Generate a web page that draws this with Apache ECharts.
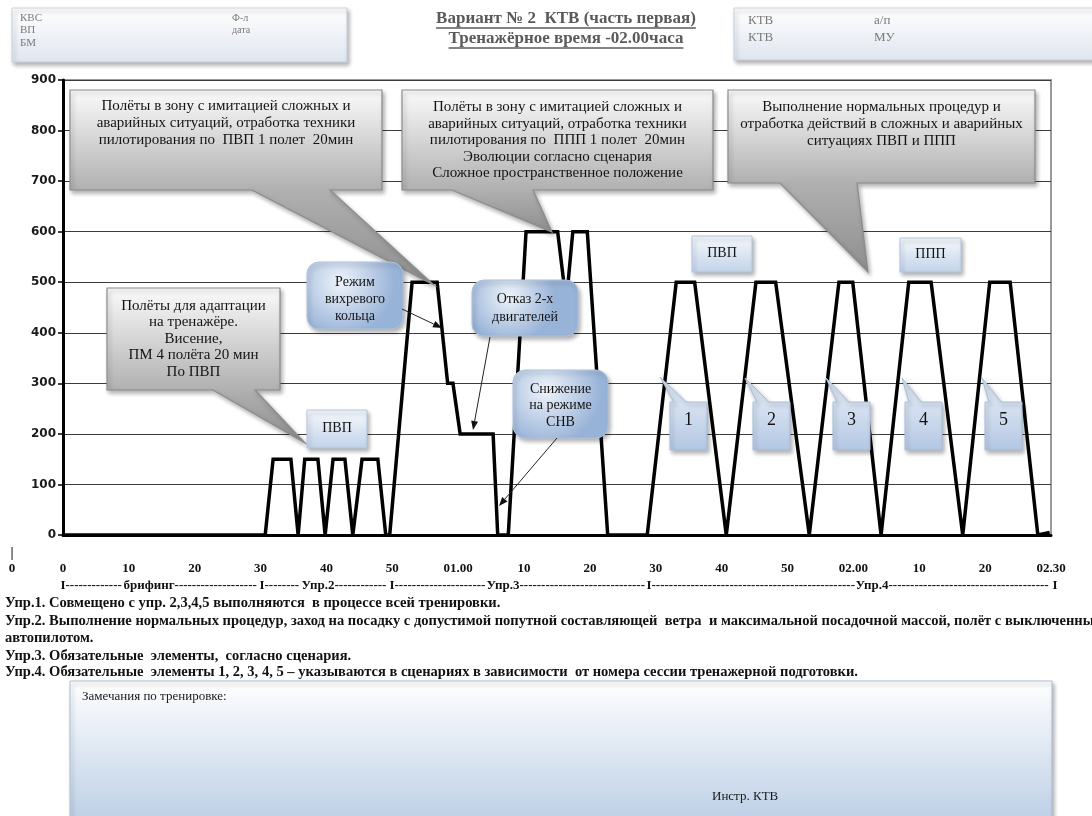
<!DOCTYPE html>
<html>
<head>
<meta charset="utf-8">
<script src="https://cdn.jsdelivr.net/npm/echarts@6/dist/echarts.min.js"></script>
<style>
html, body { margin: 0; padding: 0; background: #fff; }
#chart { width: 1092px; height: 816px; }
</style>
</head>
<body>
<div id="chart"></div>
<script>
// профиль тренировки: время от начала (мин) и высота (м)
const minutes = [0, 30.7, 31.9, 34.6, 35.7, 36.7, 38.7, 39.8, 41.0, 42.8, 44.0, 45.4, 47.8, 49.0, 49.6,
    53.0, 56.8, 58.4, 59.2, 60.3, 65.3, 66.0, 67.6, 70.3, 75.1, 76.4, 77.4, 79.6, 82.7, 88.7,
    93.1, 95.9, 100.7, 105.2, 108.2, 113.3, 117.8, 119.9, 124.2, 128.4, 131.8, 136.6, 140.7, 143.8, 148.0, 149.8];
const height = [0, 0, 150, 150, 0, 150, 150, 0, 150, 150, 0, 150, 150, 0, 0,
    500, 500, 300, 300, 200, 200, 0, 0, 600, 600, 460, 600, 600, 0, 0,
    500, 500, 0, 500, 500, 0, 500, 500, 0, 500, 500, 0, 500, 500, 0, 5];
const xTickLabels = ['0', '10', '20', '30', '40', '50', '01.00', '10', '20', '30', '40', '50', '02.00', '10', '20', '02.30'];

const stageRow = [
    {t: 'I', x: 63}, {t: 'брифинг', x: 149}, {t: 'I', x: 262}, {t: 'Упр.2', x: 318},
    {t: 'I', x: 392}, {t: 'Упр.3', x: 503}, {t: 'I', x: 649}, {t: 'Упр.4', x: 872}, {t: 'I', x: 1055}
];
const notes = [
    'Упр.1. Совмещено с упр. 2,3,4,5 выполняются  в процессе всей тренировки.',
    'Упр.2. Выполнение нормальных процедур, заход на посадку с допустимой попутной составляющей  ветра  и максимальной посадочной массой, полёт с выключенным',
    'автопилотом.',
    'Упр.3. Обязательные  элементы,  согласно сценария.',
    'Упр.4. Обязательные  элементы 1, 2, 3, 4, 5 – указываются в сценариях в зависимости  от номера сессии тренажерной подготовки.'
];

const SERIF = '"Liberation Serif", "DejaVu Serif", serif';
const ctx = document.createElement('canvas').getContext('2d');
function textWidth(s, font) { ctx.font = font; return ctx.measureText(s).width; }

const g = [];
const shadow = {shadowBlur: 4, shadowOffsetX: 2, shadowOffsetY: 3, shadowColor: 'rgba(0,0,0,0.3)'};

function txt(x, y, text, font, fill, align, extra) {
    g.push(Object.assign({
        type: 'text', z: 110, x: x, y: y,
        style: {text: text, x: 0, y: 0, font: font, fill: fill || '#111',
            align: align || 'left', textAlign: align || 'left',
            verticalAlign: 'middle', textVerticalAlign: 'middle'}
    }, extra || {}));
}

function grad(stops) {
    return new echarts.graphic.LinearGradient(0, 0, 0, 1, stops.map(c => ({offset: c[0], color: c[1]})));
}

// серая выноска с хвостом от нижней стороны
function grayCallout(r, base, tip, lines, firstY, lh) {
    const [x1, y1, x2, y2] = r;
    const f = (y2 - y1) / (tip[1] - y1);
    g.push({
        type: 'polygon', z: 100,
        shape: {points: [[x1, y1], [x2, y1], [x2, y2], [base[1], y2], tip, [base[0], y2], [x1, y2]]},
        style: Object.assign({fill: grad([[0, '#fbfbfb'], [f, '#b0b0b0'], [1, '#8e8e8e']]), stroke: '#8c8c8c', lineWidth: 1.2}, shadow)
    });
    lines.forEach((l, i) => txt((x1 + x2) / 2, firstY + i * lh, l, '15px ' + SERIF, '#141414', 'center'));
}

function blueBubble(x, y, w, h, lines, firstY, lh) {
    g.push({
        type: 'rect', z: 100, shape: {x: x, y: y, width: w, height: h, r: 12},
        style: Object.assign({
            fill: new echarts.graphic.RadialGradient(0.35, 0.3, 0.8, [{offset: 0, color: '#eef3fa'}, {offset: 1, color: '#98b3d8'}]),
            stroke: '#aec2de', lineWidth: 1
        }, shadow)
    });
    lines.forEach((l, i) => txt(x + w / 2, firstY + i * lh, l, '14px ' + SERIF, '#141414', 'center'));
}

function tag(x, y, w, h, label) {
    g.push({
        type: 'rect', z: 100, shape: {x: x, y: y, width: w, height: h},
        style: Object.assign({fill: grad([[0, '#f6f9fc'], [1, '#c2d3ea']]), stroke: '#b3c6e0', lineWidth: 1}, shadow)
    });
    txt(x + w / 2, y + h / 2 - 1, label, '14px ' + SERIF, '#141414', 'center');
}

// номерная выноска с хвостом от верхней стороны
function numCallout(x, y, w, h, tip, label) {
    g.push({
        type: 'polygon', z: 100,
        shape: {points: [[x, y], [x + 4, y], tip, [x + 16, y], [x + w, y], [x + w, y + h], [x, y + h]]},
        style: Object.assign({fill: grad([[0, '#dce6f3'], [0.45, '#d3dff0'], [1, '#b3c7e3']]), stroke: '#a9bedb', lineWidth: 1}, shadow)
    });
    txt(x + w / 2, y + 18, label, '18px ' + SERIF, '#141414', 'center');
}

function arrow(x1, y1, x2, y2) {
    const a = Math.atan2(y2 - y1, x2 - x1), L = 9, W = 3.5;
    const bx = x2 - L * Math.cos(a), by = y2 - L * Math.sin(a);
    g.push({type: 'line', z: 105, shape: {x1: x1, y1: y1, x2: bx, y2: by}, style: {stroke: '#222', lineWidth: 1}});
    g.push({type: 'polygon', z: 105, shape: {points: [[x2, y2],
        [bx + W * Math.sin(a), by - W * Math.cos(a)], [bx - W * Math.sin(a), by + W * Math.cos(a)]]},
        style: {fill: '#111'}});
}

// шапка
g.push({type: 'rect', z: 90, shape: {x: 12, y: 8, width: 335, height: 54},
    style: Object.assign({fill: grad([[0, '#ffffff'], [1, '#dfe6ef']]), stroke: '#c9d2de', lineWidth: 1}, shadow)});
g.push({type: 'rect', z: 90, shape: {x: 734, y: 8, width: 380, height: 52},
    style: Object.assign({fill: grad([[0, '#ffffff'], [1, '#dfe6ef']]), stroke: '#c9d2de', lineWidth: 1}, shadow)});
['КВС', 'ВП', 'БМ'].forEach((s, i) => txt(20, 18 + i * 12.5, s, '11px ' + SERIF, '#7a7a7a'));
['Ф-л', 'дата'].forEach((s, i) => txt(232, 18 + i * 12.5, s, '10px ' + SERIF, '#7a7a7a'));
['КТВ', 'КТВ'].forEach((s, i) => txt(748, 21 + i * 17, s, '13px ' + SERIF, '#7a7a7a'));
['а/п', 'МУ'].forEach((s, i) => txt(874, 21 + i * 17, s, '13px ' + SERIF, '#7a7a7a'));

const titleFont = 'bold 17px ' + SERIF;
['Вариант № 2  КТВ (часть первая)', 'Тренажёрное время -02.00часа'].forEach((s, i) => {
    const y = 19 + i * 20, w = textWidth(s, titleFont);
    txt(566, y, s, titleFont, '#5a5a5a', 'center');
    g.push({type: 'line', z: 110, shape: {x1: 566 - w / 2, y1: y + 9, x2: 566 + w / 2, y2: y + 9}, style: {stroke: '#5a5a5a', lineWidth: 1.3}});
});

// выноски
grayCallout([70, 90, 382, 190], [252, 330], [434, 285],
    ['Полёты в зону с имитацией сложных и', 'аварийных ситуаций, отработка техники', 'пилотирования по  ПВП 1 полет  20мин'], 106, 17);
grayCallout([402, 90, 713, 190], [452, 533], [552, 232],
    ['Полёты в зону с имитацией сложных и', 'аварийных ситуаций, отработка техники', 'пилотирования по  ППП 1 полет  20мин',
        'Эволюции согласно сценария', 'Сложное пространственное положение'], 107, 16.6);
grayCallout([728, 90, 1035, 183], [780, 857], [868, 272],
    ['Выполнение нормальных процедур и', 'отработка действий в сложных и аварийных', 'ситуациях ПВП и ППП'], 107, 17);
grayCallout([107, 288, 280, 390], [213, 255], [305, 443],
    ['Полёты для адаптации', 'на тренажёре.', 'Висение,', 'ПМ 4 полёта 20 мин', 'По ПВП'], 306, 16.5);

tag(307, 410, 60, 38, 'ПВП');
tag(692, 236, 60, 36, 'ПВП');
tag(900, 238, 61, 34, 'ППП');

blueBubble(307, 262, 96, 67, ['Режим', 'вихревого', 'кольца'], 282, 17);
blueBubble(472, 280, 106, 56, ['Отказ 2-х', 'двигателей'], 299, 18);
blueBubble(513, 370, 95, 68, ['Снижение', 'на режиме', 'СНВ'], 389, 16.5);
arrow(402, 309, 442, 328);
arrow(490, 337, 473, 430);
arrow(557, 438, 499, 506);

[[670, [660, 377]], [753, [745, 378]], [833, [826, 378]], [905, [902, 378]], [985, [982, 378]]]
    .forEach((c, i) => numCallout(c[0], 402, 37, 48, c[1], String(i + 1)));

// подписи под осью
const rowFont = 'bold 13px ' + SERIF;
txt(12, 553, '|', 'bold 14px ' + SERIF, '#111', 'center');
txt(12, 569, '0', rowFont, '#111', 'center');
const dashW = textWidth('-', rowFont);
stageRow.forEach((p, i) => {
    const w = textWidth(p.t, rowFont);
    txt(p.x, 586, p.t, rowFont, '#111', 'center');
    if (i < stageRow.length - 1) {
        const nx = stageRow[i + 1].x - textWidth(stageRow[i + 1].t, rowFont) / 2;
        const start = p.x + w / 2;
        const n = Math.max(0, Math.floor((nx - start) / dashW));
        txt(start, 586, '-'.repeat(n), rowFont, '#111', 'left');
    }
});

const noteFont = 'bold 14.5px ' + SERIF;
const noteScale = 853 / textWidth(notes[4], noteFont);
[603, 621, 638, 656, 672].forEach((y, i) => txt(5, y, notes[i], noteFont, '#111', 'left', {scaleX: noteScale}));

// поле замечаний
g.push({type: 'rect', z: 90, shape: {x: 70, y: 681, width: 982, height: 150},
    style: Object.assign({fill: grad([[0, '#ffffff'], [1, '#b8cce4']]), stroke: '#a9bdd9', lineWidth: 1}, shadow)});
txt(82, 697, 'Замечания по тренировке:', '13px ' + SERIF, '#1a1a1a');
txt(712, 797, 'Инстр. КТВ', '13px ' + SERIF, '#1a1a1a');

const chart = echarts.init(document.getElementById('chart'));
chart.setOption({
    animation: false,
    grid: {left: 63, right: 41, top: 80, bottom: 281, show: true, borderColor: '#9a9a9a', borderWidth: 2},
    xAxis: {
        type: 'value', min: 0, max: 150, interval: 10,
        axisLine: {lineStyle: {color: '#000', width: 3}},
        axisTick: {show: false},
        splitLine: {show: false},
        axisLabel: {
            margin: 27, color: '#111', fontWeight: 'bold', fontSize: 13, fontFamily: 'Liberation Serif',
            formatter: v => (v % 10 === 0 ? xTickLabels[v / 10] || '' : '')
        }
    },
    yAxis: {
        type: 'value', min: 0, max: 900, interval: 100,
        axisLine: {show: true, lineStyle: {color: '#000', width: 3}},
        axisTick: {show: true, length: 5, lineStyle: {color: '#000', width: 1.5}},
        splitLine: {lineStyle: {color: '#3c3c3c', width: 1}},
        axisLabel: {margin: 7, color: '#1a1a1a', fontWeight: 'bold', fontSize: 12, fontFamily: 'DejaVu Sans'}
    },
    series: [{
        type: 'line',
        data: minutes.map((m, i) => [m, height[i]]),
        symbol: 'none',
        lineStyle: {color: '#000', width: 3.5, join: 'miter', miterLimit: 3},
        z: 5
    }],
    graphic: g
});
</script>
</body>
</html>
